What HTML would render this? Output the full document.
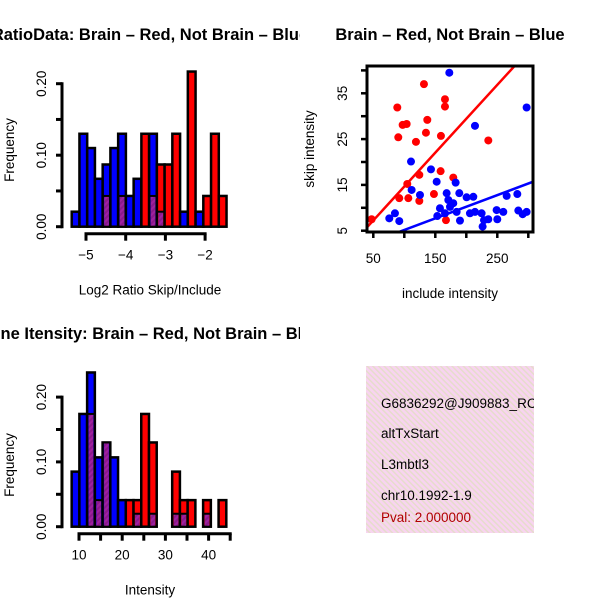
<!DOCTYPE html>
<html><head><meta charset="utf-8"><style>
body{margin:0;background:#fff;}
svg{display:block;font-family:"Liberation Sans",Arial,sans-serif;}
</style></head><body>
<svg id="c" width="600" height="600" viewBox="0 0 600 600" xmlns="http://www.w3.org/2000/svg">
<defs>
<pattern id="hatch" width="4" height="4" patternUnits="userSpaceOnUse" patternTransform="rotate(45)">
<rect width="4" height="4" fill="#a020a0"/><rect width="2" height="4" fill="#8a1a8a"/></pattern>
<pattern id="pinkh" width="4" height="4" patternUnits="userSpaceOnUse" patternTransform="rotate(-45)">
<rect width="4" height="4" fill="#f8d4f0"/><rect width="1.5" height="4" fill="#e6dccc"/></pattern>
<clipPath id="p1"><rect x="0" y="0" width="300" height="300"/></clipPath>
<clipPath id="p3"><rect x="0" y="300" width="300" height="300"/></clipPath>
<clipPath id="sc"><rect x="367" y="66" width="166" height="166"/></clipPath>
<clipPath id="ib"><rect x="366" y="366" width="168" height="167"/></clipPath>
</defs>
<g id="h1"></g>
<g id="sp"></g>
<g id="h2"></g>
<g clip-path="url(#ib)">
<rect x="366" y="366" width="168" height="167" fill="url(#pinkh)"/>
<text x="381" y="408" font-size="13.5">G6836292@J909883_RC</text>
<text x="381" y="438" font-size="13.5">altTxStart</text>
<text x="381" y="469" font-size="13.5">L3mbtl3</text>
<text x="381" y="500" font-size="13.5">chr10.1992-1.9</text>
<text x="381" y="522" font-size="13.5" fill="#b00000">Pval: 2.000000</text>
</g>
</svg>
<script>
// Histogram 1 data (Log2 ratio)
const h1Start = -5.36, h1Width = 0.195;
const h1Blue = [0.021,0.13,0.11,0.067,0.087,0.11,0.13,0.043,0.067,0,0.13,0.021,0,0,0.021,0,0.021,0,0,0];
const h1Red  = [0,0,0,0,0.043,0,0.043,0,0,0.13,0.043,0.087,0.087,0.13,0,0.217,0,0.043,0.13,0.043];
const h1XTicks = [-5,-4,-3,-2];
const yTicks = [0,0.05,0.10,0.15,0.20];
const yTickLabels = ["0.00","0.10","0.20"];
// Histogram 2 data (Intensity)
const h2Start = 8.3, h2Width = 1.79;
const h2Blue = [0.085,0.174,0.238,0.107,0.13,0.107,0.041,0,0,0,0,0,0,0,0,0,0,0,0,0];
const h2Red  = [0,0,0.174,0.041,0.13,0,0,0.041,0.041,0.174,0.13,0,0,0.085,0.041,0.041,0,0.041,0,0.041];
const h2Purple=[0,0,0.174,0.041,0.13,0,0,0,0.02,0,0.02,0,0,0.02,0.02,0,0,0.02,0,0];
const h2XTicks = [10,15,20,25,30,35,40,45];
const h2XLabels = [10,20,30,40];
// Scatter data
const redX = [131.7,165.6,165.6,88.7,137.1,97.3,103.8,134.9,90.3,118.8,159.1,235.5,158.6,124.2,179.0,104.8,91.9,106.5,124.2,147.8,47.3,167.2];
const redY = [37.0,33.7,32.1,31.9,29.2,28.1,28.3,26.4,25.4,24.4,25.7,24.7,18.0,17.2,16.6,15.2,12.1,12.1,11.5,13.0,7.5,7.3];
const blueX = [172.6,297.3,214.0,110.8,143.0,152.2,182.8,111.8,125.3,168.3,188.7,200.5,211.3,265.1,282.3,84.9,75.8,91.9,157.5,171.0,173.7,179.0,165.6,184.4,189.8,205.9,214.0,224.7,228.5,235.5,226.3,248.9,259.7,250.0,283.9,290.9,297.3,153.2];
const blueY = [39.5,31.9,27.9,20.1,18.4,15.7,15.5,13.9,12.8,13.2,13.2,12.3,12.4,12.6,13.0,8.8,7.7,7.1,9.9,11.7,10.2,11.0,8.8,9.1,7.2,8.8,9.1,8.8,7.3,7.5,5.9,9.5,9.1,7.5,9.4,8.6,9.1,8.2];
const redFit = [-0.16, 0.148];
const blueFit = [0.09, 0.0507];
const scXTicks = [50,100,150,200,250,300], scXLabels=[50,150,250];
const scYTicks = [5,10,15,20,25,30,35,40], scYLabels=[5,15,25,35];

const FS=13.5, TFS=16.5;
const NS="http://www.w3.org/2000/svg";
function mk(parent,tag,attrs,text){const e=document.createElementNS(NS,tag);for(const k in attrs)e.setAttribute(k,attrs[k]);if(text!==undefined)e.textContent=text;parent.appendChild(e);return e;}

function hist(g,clip,start,w,blue,red,purple,sx,y0,yk,ticks,labels,xlab,title,titleY,ylabY){
  g.setAttribute('clip-path','url(#'+clip+')');
  const sy=v=>y0-v*yk;
  for(let i=0;i<blue.length;i++){
    const x0=sx(start+i*w), x1=sx(start+(i+1)*w);
    const b=blue[i], r=red[i], p=purple?purple[i]:Math.min(b,r);
    const hi=Math.max(b,r);
    if(hi<=0)continue;
    const bar=mk(g,'rect',{x:x0,y:sy(hi),width:x1-x0,height:y0-sy(hi),fill:b>=r?'#0000ff':'#ff0000',stroke:'#000','stroke-width':2.5});
    
    
    if(p>0){
      const pr=mk(g,'rect',{x:x0+1.5,y:sy(p),width:x1-x0-3,height:y0-sy(p)-1,fill:'url(#hatch)'});
      
      
      mk(g,'line',{x1:x0,x2:x1,y1:sy(p),y2:sy(p),stroke:'#000','stroke-width':2});
    }
  }
  mk(g,'line',{x1:62,x2:62,y1:sy(0)+1.5,y2:sy(0.2)-1.5,stroke:'#000','stroke-width':3});
  yTicks.forEach(v=>mk(g,'line',{x1:56,x2:62,y1:sy(v),y2:sy(v),stroke:'#000','stroke-width':3}));
  yTickLabels.forEach(l=>{const v=parseFloat(l);const t=mk(g,'text',{x:0,y:0,'font-size':FS,'text-anchor':'middle',transform:`translate(46,${sy(v)}) rotate(-90)`},l);
    });
  const xa=y0+7;
  mk(g,'line',{x1:sx(ticks[0])-1.5,x2:sx(ticks[ticks.length-1])+1.5,y1:xa,y2:xa,stroke:'#000','stroke-width':3});
  ticks.forEach(v=>mk(g,'line',{x1:sx(v),x2:sx(v),y1:xa,y2:xa+7,stroke:'#000','stroke-width':3}));
  labels.forEach(v=>{const t=mk(g,'text',{x:sx(v),y:xa+26,'font-size':FS,'text-anchor':'middle'},String(v).replace('-','\u2212'));
    });
  const xl=mk(g,'text',{x:150,y:xa+61,'font-size':FS,'text-anchor':'middle'},xlab);
  
  const yl=mk(g,'text',{x:0,y:0,'font-size':FS,'text-anchor':'middle',transform:`translate(14,${ylabY}) rotate(-90)`},'Frequency');
  
  const tt=mk(g,'text',{x:150,y:titleY,'font-size':TFS,'font-weight':'bold','text-anchor':'middle'},title);
  
}
const h1sx=v=>86+(v+5)*39.7;
hist(document.getElementById('h1'),'p1',h1Start,h1Width,h1Blue,h1Red,null,h1sx,226.7,715,h1XTicks,h1XTicks,'Log2 Ratio Skip/Include','RatioData: Brain \u2013 Red, Not Brain \u2013 Blue',40,150);
const h2sx=v=>79+(v-10)*4.32;
hist(document.getElementById('h2'),'p3',h2Start,h2Width,h2Blue,h2Red,h2Purple,h2sx,526.7,648,h2XTicks,h2XLabels,'Intensity','Gene Itensity: Brain \u2013 Red, Not Brain \u2013 Blue',339,465);

const sp=document.getElementById('sp');
const scx=v=>373.3+(v-50)*0.62, scy=v=>230.7-(v-5)*4.58;
const pts=mk(sp,'g',{'clip-path':'url(#sc)'});
redX.forEach((x,i)=>{const c=mk(pts,'circle',{cx:scx(x),cy:scy(redY[i]),r:4,fill:'#ff0000'});
  });
blueX.forEach((x,i)=>{const c=mk(pts,'circle',{cx:scx(x),cy:scy(blueY[i]),r:4,fill:'#0000ff'});
  });
[[redFit,'#ff0000','brain-fit-line'],[blueFit,'#0000ff','not-brain-fit-line']].forEach(([f,col,nm])=>{
  const l=mk(pts,'line',{x1:scx(30),y1:scy(f[0]+f[1]*30),x2:scx(320),y2:scy(f[0]+f[1]*320),stroke:col,'stroke-width':2.5});
  });
const fr=mk(sp,'rect',{x:367,y:66,width:166,height:166,fill:'none',stroke:'#000','stroke-width':3});

scXTicks.forEach(v=>mk(sp,'line',{x1:scx(v),x2:scx(v),y1:232,y2:238,stroke:'#000','stroke-width':2.5}));
scXLabels.forEach(v=>{const t=mk(sp,'text',{x:scx(v),y:263,'font-size':FS,'text-anchor':'middle'},v);
  });
scYTicks.forEach(v=>mk(sp,'line',{x1:361,x2:367,y1:scy(v),y2:scy(v),stroke:'#000','stroke-width':2.5}));
scYLabels.forEach(v=>{const t=mk(sp,'text',{x:0,y:0,'font-size':FS,'text-anchor':'middle',transform:`translate(347,${scy(v)}) rotate(-90)`},v);
  });
const sxl=mk(sp,'text',{x:450,y:298,'font-size':FS,'text-anchor':'middle'},'include intensity');

const syl=mk(sp,'text',{x:0,y:0,'font-size':FS,'text-anchor':'middle',transform:'translate(314,149) rotate(-90)'},'skip intensity');

const stt=mk(sp,'text',{x:450,y:40,'font-size':TFS,'font-weight':'bold','text-anchor':'middle'},'Brain \u2013 Red, Not Brain \u2013 Blue');

</script>
</body></html>
